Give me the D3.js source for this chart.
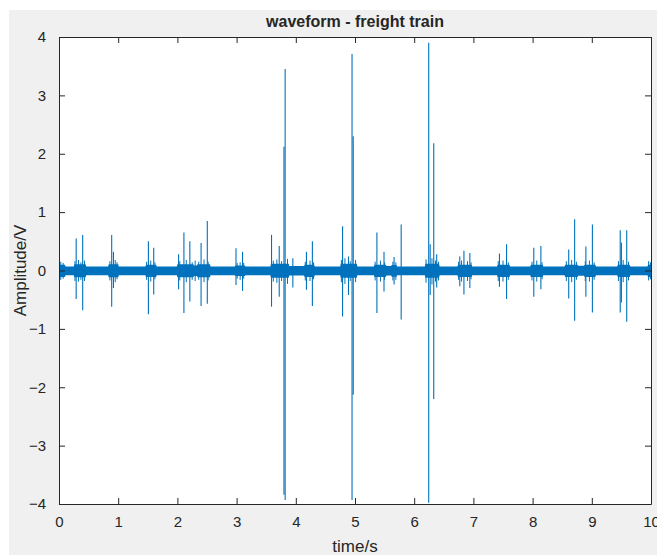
<!DOCTYPE html>
<html>
<head>
<meta charset="utf-8">
<script src="https://cdn.jsdelivr.net/npm/d3@7/dist/d3.min.js"></script>
<style>
  body { margin: 0; background: #fff; }
  text { font-family: "Liberation Sans", Arial, sans-serif; fill: #262626; }
</style>
</head>
<body>
<div id="chart"></div>
<script>
// tick labels
var xTicks = [0, 1, 2, 3, 4, 5, 6, 7, 8, 9, 10];
var yTicks = [-4, -3, -2, -1, 0, 1, 2, 3, 4];

// noise band envelope
var envTime  = [0, 0.10, 0.11, 0.25, 0.26, 0.45, 0.46, 0.83, 0.84, 1.00, 1.01, 1.46, 1.47, 1.64, 1.65, 1.99, 2.00, 2.27, 2.28, 2.33, 2.34, 2.55, 2.56, 2.97, 2.98, 3.14, 3.15, 3.57, 3.58, 3.88, 3.89, 4.14, 4.15, 4.31, 4.32, 4.75, 4.76, 5.03, 5.04, 5.32, 5.33, 5.52, 5.53, 5.61, 5.62, 5.70, 5.71, 6.18, 6.19, 6.42, 6.43, 6.73, 6.74, 6.97, 6.98, 7.40, 7.41, 7.61, 7.62, 7.96, 7.97, 8.17, 8.18, 8.54, 8.55, 8.76, 8.77, 8.87, 8.88, 9.06, 9.07, 9.43, 9.44, 9.64, 9.65, 9.94, 9.95, 10];
var envUpper = [0.10, 0.10, 0.07, 0.07, 0.105, 0.105, 0.07, 0.07, 0.105, 0.105, 0.07, 0.07, 0.10, 0.10, 0.07, 0.07, 0.105, 0.105, 0.085, 0.085, 0.105, 0.105, 0.07, 0.07, 0.085, 0.085, 0.07, 0.07, 0.115, 0.115, 0.075, 0.075, 0.10, 0.10, 0.07, 0.07, 0.115, 0.115, 0.07, 0.07, 0.10, 0.10, 0.075, 0.075, 0.095, 0.095, 0.07, 0.07, 0.115, 0.115, 0.07, 0.07, 0.10, 0.10, 0.07, 0.07, 0.10, 0.10, 0.07, 0.07, 0.10, 0.10, 0.07, 0.07, 0.10, 0.10, 0.08, 0.08, 0.10, 0.10, 0.07, 0.07, 0.10, 0.10, 0.07, 0.07, 0.10, 0.10];
var envLower = [-0.11, -0.11, -0.08, -0.08, -0.115, -0.115, -0.08, -0.08, -0.115, -0.115, -0.08, -0.08, -0.11, -0.11, -0.08, -0.08, -0.115, -0.115, -0.095, -0.095, -0.115, -0.115, -0.08, -0.08, -0.095, -0.095, -0.08, -0.08, -0.125, -0.125, -0.085, -0.085, -0.11, -0.11, -0.08, -0.08, -0.125, -0.125, -0.08, -0.08, -0.11, -0.11, -0.085, -0.085, -0.105, -0.105, -0.08, -0.08, -0.125, -0.125, -0.08, -0.08, -0.11, -0.11, -0.08, -0.08, -0.11, -0.11, -0.08, -0.08, -0.11, -0.11, -0.08, -0.08, -0.11, -0.11, -0.09, -0.09, -0.11, -0.11, -0.08, -0.08, -0.11, -0.11, -0.08, -0.08, -0.11, -0.11];

// impulses: time, peak, trough
var spikeTime = [0.29, 0.40, 0.89, 0.92, 1.51, 1.60, 2.02, 2.11, 2.21, 2.40, 2.505, 2.99, 3.10, 3.59, 3.72, 3.80, 3.82, 3.95, 4.18, 4.28, 4.79, 4.89, 4.95, 4.97, 5.37, 5.49, 5.66, 5.78, 6.245, 6.27, 6.33, 6.38, 6.77, 6.84, 6.94, 7.44, 7.56, 8.02, 8.14, 8.61, 8.71, 8.90, 9.01, 9.48, 9.50, 9.59];
var spikeMax  = [0.55, 0.61, 0.61, 0.32, 0.50, 0.39, 0.28, 0.65, 0.50, 0.47, 0.85, 0.38, 0.32, 0.61, 0.42, 2.12, 3.45, 0.21, 0.32, 0.50, 0.76, 0.24, 3.71, 2.30, 0.65, 0.32, 0.23, 0.79, 3.90, 0.45, 2.18, 0.28, 0.24, 0.34, 0.30, 0.29, 0.45, 0.39, 0.42, 0.36, 0.88, 0.41, 0.79, 0.69, 0.48, 0.69];
var spikeMin  = [-0.49, -0.68, -0.62, -0.30, -0.75, -0.41, -0.32, -0.73, -0.53, -0.61, -0.57, -0.25, -0.35, -0.62, -0.45, -3.84, -3.93, -0.29, -0.33, -0.61, -0.79, -0.42, -3.93, -2.13, -0.73, -0.36, -0.24, -0.84, -3.98, -0.42, -2.20, -0.29, -0.27, -0.41, -0.30, -0.28, -0.49, -0.45, -0.32, -0.48, -0.86, -0.45, -0.72, -0.72, -0.55, -0.88];

// small bursts of noise riding on the band
var minorTime = [0.03, 0.07, 0.27, 0.33, 0.37, 0.43, 0.86, 0.95, 0.98, 1.48, 1.55, 1.62, 2.04, 2.15, 2.25, 2.30, 2.36, 2.45, 2.52, 3.01, 3.06, 3.12, 3.62, 3.68, 3.76, 3.86, 4.16, 4.24, 4.30, 4.77, 4.83, 4.92, 5.01, 5.34, 5.43, 5.50, 5.64, 5.69, 6.20, 6.30, 6.36, 6.41, 6.75, 6.80, 6.90, 6.96, 7.42, 7.50, 7.59, 7.99, 8.07, 8.16, 8.57, 8.66, 8.74, 8.89, 8.96, 9.04, 9.45, 9.53, 9.62, 9.96, 9.99];
var minorMax  = [0.15, 0.13, 0.16, 0.18, 0.14, 0.17, 0.16, 0.18, 0.14, 0.15, 0.17, 0.14, 0.16, 0.18, 0.14, 0.17, 0.15, 0.19, 0.15, 0.13, 0.14, 0.13, 0.17, 0.19, 0.16, 0.20, 0.15, 0.17, 0.14, 0.18, 0.21, 0.16, 0.18, 0.15, 0.17, 0.14, 0.15, 0.14, 0.19, 0.21, 0.17, 0.15, 0.15, 0.17, 0.16, 0.14, 0.16, 0.17, 0.14, 0.15, 0.17, 0.14, 0.16, 0.18, 0.15, 0.16, 0.17, 0.14, 0.16, 0.18, 0.15, 0.16, 0.14];
var minorMin  = [-0.16, -0.14, -0.18, -0.19, -0.16, -0.18, -0.17, -0.20, -0.15, -0.16, -0.19, -0.15, -0.17, -0.20, -0.16, -0.18, -0.16, -0.20, -0.17, -0.14, -0.16, -0.14, -0.19, -0.21, -0.18, -0.23, -0.17, -0.18, -0.15, -0.20, -0.23, -0.18, -0.20, -0.17, -0.19, -0.16, -0.17, -0.16, -0.21, -0.24, -0.19, -0.17, -0.16, -0.19, -0.18, -0.15, -0.18, -0.19, -0.16, -0.17, -0.19, -0.15, -0.18, -0.20, -0.16, -0.18, -0.19, -0.16, -0.18, -0.20, -0.17, -0.17, -0.15];

var W = 657, H = 555;
var margin = {left: 59, top: 37, right: 6, bottom: 51};
var color = '#0072BD';

var svg = d3.select('#chart').append('svg')
    .attr('width', W)
    .attr('height', H);

// figure background
svg.append('rect')
    .attr('x', 9).attr('y', 10)
    .attr('width', W - 9).attr('height', H - 10)
    .attr('fill', '#f0f0f0');

var x = d3.scaleLinear().domain([0, 10]).range([margin.left, W - margin.right]);
var y = d3.scaleLinear().domain([-4, 4]).range([H - margin.bottom, margin.top]);

svg.append('rect')
    .attr('x', x(0)).attr('y', y(4))
    .attr('width', x(10) - x(0)).attr('height', y(-4) - y(4))
    .attr('fill', '#fff');

svg.append('clipPath').attr('id', 'clip')
    .append('rect')
    .attr('x', x(0)).attr('y', y(4))
    .attr('width', x(10) - x(0)).attr('height', y(-4) - y(4));

var plot = svg.append('g').attr('clip-path', 'url(#clip)');

var env = envTime.map(function(t, i) { return {t: t, hi: envUpper[i], lo: envLower[i]}; });
plot.append('path')
    .datum(env)
    .attr('fill', color)
    .attr('stroke', 'none')
    .attr('d', d3.area()
          .x(function(d) { return x(d.t); })
          .y0(function(d) { return y(d.lo); })
          .y1(function(d) { return y(d.hi); }));

function drawSticks(cls, times, highs, lows, width) {
    var rows = times.map(function(t, i) { return {t: t, hi: highs[i], lo: lows[i]}; });
    plot.selectAll('line.' + cls)
        .data(rows)
        .enter().append('line')
        .attr('class', cls)
        .attr('x1', function(d) { return x(d.t); })
        .attr('x2', function(d) { return x(d.t); })
        .attr('y1', function(d) { return y(d.lo); })
        .attr('y2', function(d) { return y(d.hi); })
        .attr('stroke', color)
        .attr('stroke-width', width);
}
drawSticks('minor', minorTime, minorMax, minorMin, 1);
drawSticks('spike', spikeTime, spikeMax, spikeMin, 1.1);

// axes, MATLAB style: ticks inside, box on
var tickLen = 6;
var axisColor = '#262626';
svg.append('g')
    .attr('transform', 'translate(0,' + y(-4) + ')')
    .call(d3.axisBottom(x).tickValues(xTicks).tickSizeInner(-tickLen).tickSizeOuter(0).tickPadding(12))
    .call(function(g) {
        g.selectAll('text').attr('font-size', 15).attr('font-family', null);
    });
svg.append('g')
    .attr('transform', 'translate(0,' + y(4) + ')')
    .call(d3.axisTop(x).tickValues(xTicks).tickSizeInner(-tickLen).tickSizeOuter(0).tickFormat(''));
svg.append('g')
    .attr('transform', 'translate(' + x(0) + ',0)')
    .call(d3.axisLeft(y).tickValues(yTicks).tickSizeInner(-tickLen).tickSizeOuter(0).tickPadding(13))
    .call(function(g) {
        g.selectAll('text').attr('font-size', 15).attr('font-family', null);
    });
svg.append('g')
    .attr('transform', 'translate(' + x(10) + ',0)')
    .call(d3.axisRight(y).tickValues(yTicks).tickSizeInner(-tickLen).tickSizeOuter(0).tickFormat(''));

svg.selectAll('.domain, .tick line').attr('stroke', axisColor);
svg.selectAll('.tick text').attr('fill', axisColor);

svg.append('text')
    .attr('x', (x(0) + x(10)) / 2)
    .attr('y', 27)
    .attr('text-anchor', 'middle')
    .attr('font-size', 16)
    .attr('font-weight', 'bold')
    .text('waveform - freight train');

svg.append('text')
    .attr('x', (x(0) + x(10)) / 2)
    .attr('y', 552)
    .attr('text-anchor', 'middle')
    .attr('font-size', 17)
    .text('time/s');

svg.append('text')
    .attr('transform', 'translate(26,' + y(0) + ') rotate(-90)')
    .attr('text-anchor', 'middle')
    .attr('font-size', 17)
    .text('Amplitude/V');
</script>
</body>
</html>
